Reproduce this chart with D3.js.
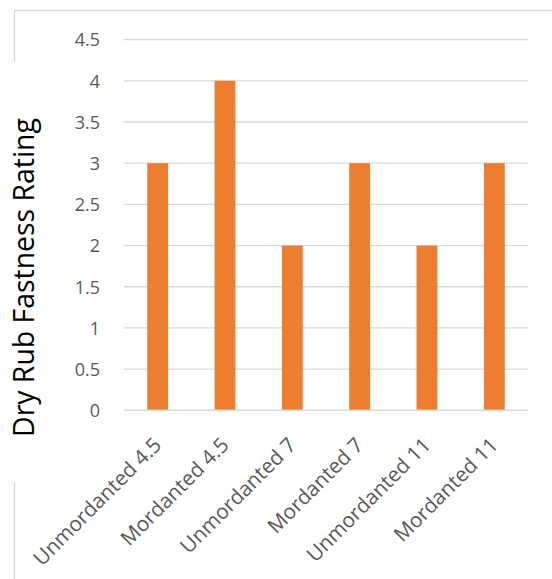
<!DOCTYPE html>
<html>
<head>
<meta charset="utf-8">
<script src="https://cdn.jsdelivr.net/npm/d3@7"></script>
<style>
  html, body { margin: 0; padding: 0; background: #fff; }
  svg { display: block; }
  text { font-family: "Open Sans", "Liberation Sans", sans-serif; }
</style>
</head>
<body>
<svg id="chart" width="552" height="579"></svg>
<script>
const categories = ["Unmordanted 4.5", "Mordanted 4.5", "Unmordanted 7", "Mordanted 7", "Unmordanted 11", "Mordanted 11"];
const ratings = [3, 4, 2, 3, 2, 3];
const yTicks = [0, 0.5, 1, 1.5, 2, 2.5, 3, 3.5, 4, 4.5];
const yTitle = "Dry Rub Fastness Rating";

const svg = d3.select("#chart");
const plot = { left: 124, right: 528, top: 39.6, bottom: 410.3 };

// chart area border
svg.append("rect")
  .attr("x", 14.5).attr("y", 10.5)
  .attr("width", 560).attr("height", 600)
  .attr("fill", "#fff").attr("stroke", "#d9d9d9").attr("stroke-width", 1.3);

const x = d3.scaleBand().domain(categories).range([plot.left, plot.right]).paddingInner(0.69).paddingOuter(0.345);
const y = d3.scaleLinear().domain([0, 4.5]).range([plot.bottom, plot.top]);

// gridlines
svg.append("g")
  .selectAll("line").data(yTicks.filter(d => d > 0)).join("line")
  .attr("x1", plot.left).attr("x2", plot.right)
  .attr("y1", d => y(d)).attr("y2", d => y(d))
  .attr("stroke", "#d9d9d9").attr("stroke-width", 1.3);

// y tick labels
const yAxis = d3.axisLeft(y).tickValues(yTicks).tickSize(0).tickPadding(0).tickFormat(d3.format("~g"));
const yg = svg.append("g").attr("transform", `translate(${plot.left - 24},0)`).call(yAxis);
yg.select(".domain").remove();
yg.selectAll("text").attr("fill", "#595959").attr("font-size", 18).attr("dy", "0.35em");

// bars
svg.append("g").selectAll("rect").data(categories).join("rect")
  .attr("x", d => x(d))
  .attr("width", x.bandwidth())
  .attr("y", (d, i) => y(ratings[i]))
  .attr("height", (d, i) => y(0) - y(ratings[i]))
  .attr("fill", "#ED7D31");

// x axis line
svg.append("line")
  .attr("x1", plot.left).attr("x2", plot.right)
  .attr("y1", y(0)).attr("y2", y(0))
  .attr("stroke", "#d9d9d9").attr("stroke-width", 1.5);

// x labels
const xAxis = d3.axisBottom(x).tickSize(0).tickPadding(0);
const xg = svg.append("g").attr("transform", `translate(0,${y(0)})`).call(xAxis);
xg.select(".domain").remove();
const xt = xg.selectAll(".tick text")
  .attr("fill", "#595959")
  .attr("font-size", 16)
  .attr("text-anchor", "end")
  .attr("dy", 0)
  .attr("y", 0)
  .attr("transform", "translate(5,36) rotate(-45)");
const refNode = xt.filter(d => d === "Mordanted 11").node();
const l2 = refNode.getComputedTextLength();
xt.attr("font-size", 16 * 137 / l2);

// y title with white background (covers border)
svg.append("rect").attr("x", 8).attr("y", 62).attr("width", 14).attr("height", 420).attr("fill", "#fff");
const yt = svg.append("text")
  .attr("transform", "translate(34,277.5) rotate(-90)")
  .attr("text-anchor", "middle")
  .attr("fill", "#000")
  .attr("font-size", 24)
  .text(yTitle);
const len = yt.node().getComputedTextLength();
yt.attr("font-size", 24 * 319 / len);
</script>
</body>
</html>
